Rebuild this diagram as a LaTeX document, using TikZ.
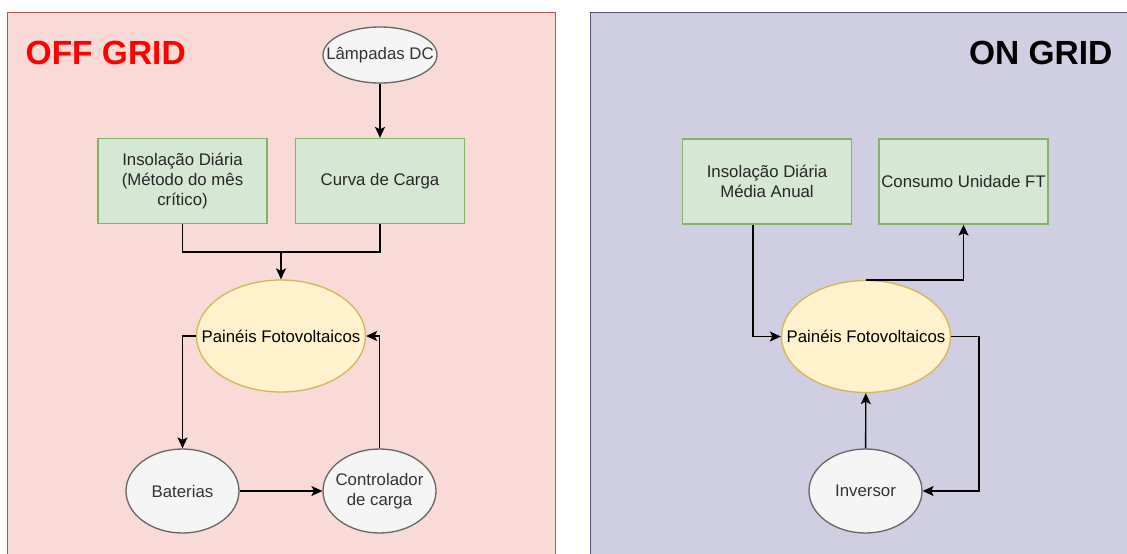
\documentclass[tikz,border=0pt]{standalone}
\usepackage{fontspec}
\setmainfont{Liberation Sans}
\usetikzlibrary{arrows.meta, shapes.geometric, positioning}
\definecolor{OffFill}{HTML}{FADAD7}
\definecolor{OffLine}{HTML}{B85450}
\definecolor{OffTitle}{HTML}{FF0000}
\definecolor{OnFill}{HTML}{D0CEE2}
\definecolor{OnLine}{HTML}{56517E}
\definecolor{BoxFill}{HTML}{D5E8D4}
\definecolor{BoxLine}{HTML}{82B366}
\definecolor{PanelFill}{HTML}{FFF2CC}
\definecolor{PanelLine}{HTML}{D6B656}
\definecolor{GrayFill}{HTML}{F5F5F5}
\definecolor{GrayLine}{HTML}{666666}
\definecolor{TextGray}{HTML}{333333}
\tikzset{
    txt/.style={
        font=\fontsize{16.8}{20.2}\selectfont,
        text=#1,
        align=center,
        inner sep=0pt
    },
    txt/.default=TextGray,
    inbox/.style={
        draw=BoxLine,
        fill=BoxFill,
        line width=1.3pt,
        minimum width=169pt,
        minimum height=85pt,
        txt=black!85,
        inner sep=2pt
    },
    pvpanel/.style={
        ellipse,
        draw=PanelLine,
        fill=PanelFill,
        line width=1.3pt,
        minimum width=169pt,
        minimum height=112pt,
        inner sep=0pt
    },
    device/.style={
        ellipse,
        draw=GrayLine,
        fill=GrayFill,
        line width=1.3pt,
        minimum width=#1,
        minimum height=84pt,
        inner sep=0pt
    },
    device/.default=113pt,
    flow/.style={
        -{Stealth[length=11pt, width=10pt, inset=2.5pt]},
        line width=1.4pt,
        black
    },
    wire/.style={
        line width=1.4pt,
        black
    },
    gridtitle/.style={
        font=\fontsize{33.5}{40}\selectfont\bfseries,
        text=#1,
        inner sep=0pt
    }
}
\begin{document}
\begin{tikzpicture}[x=1pt, y=-1pt]
        \useasboundingbox[fill=white] (0,0) rectangle (1127,554);
        \clip (0,0) rectangle (1127,554);

        % Panels
        \draw[OffLine, fill=OffFill, line width=1pt] (7,12) rectangle (555,570);
        \draw[OnLine, fill=OnFill, line width=1pt] (590,12) rectangle (1140,570);
        \node[gridtitle=OffTitle, anchor=west] (offtitle) at (25.5,53) {OFF GRID};
        \node[gridtitle=black, anchor=east] (ontitle) at (1112.5,53) {ON GRID};

        % Off grid
        \node[device=114pt, minimum height=56pt, label={[txt]center:Lâmpadas DC}] (lamp) at (380,55) {};
        \node[inbox] (insolL) at (182.5,181) {Insolação Diária\\(Método do mês\\crítico)};
        \node[inbox] (curva) at (380,181) {Curva de Carga};
        \node[pvpanel, label={[txt=black]center:Painéis Fotovoltaicos}] (pvL) at (281,336) {};
        \node[device, label={[txt]center:Baterias}] (bat) at (182.5,491) {};
        \node[device, label={[txt]center:Controlador\\de carga}] (ctrl) at (379.5,491) {};
        \coordinate (joinL) at (281,252);

        \draw[flow] (lamp) -- (curva);
        \draw[wire] (insolL.south) |- (joinL);
        \draw[wire] (curva.south) |- (joinL);
        \draw[flow] (joinL) -- (pvL.north);
        \draw[flow] (pvL.west) -| (bat.north);
        \draw[flow] (bat) -- (ctrl);
        \draw[flow] (ctrl.north) |- (pvL.east);

        % On grid
        \node[inbox] (insolR) at (767,181.5) {Insolação Diária\\Média Anual};
        \node[inbox] (cons) at (963.5,181.5) {Consumo Unidade FT};
        \node[pvpanel, label={[txt=black]center:Painéis Fotovoltaicos}] (pvR) at (866,336.5) {};
        \node[device, label={[txt]center:Inversor}] (inv) at (865.5,491) {};

        \draw[flow] ([xshift=-14pt]insolR.south) |- (pvR.west);
        \draw[flow] (pvR.north) -| (cons.south);
        \draw[flow] (pvR.east) -- ++(28,0) |- (inv.east);
        \draw[flow] (inv) -- (pvR);
    \end{tikzpicture}
\end{document}
